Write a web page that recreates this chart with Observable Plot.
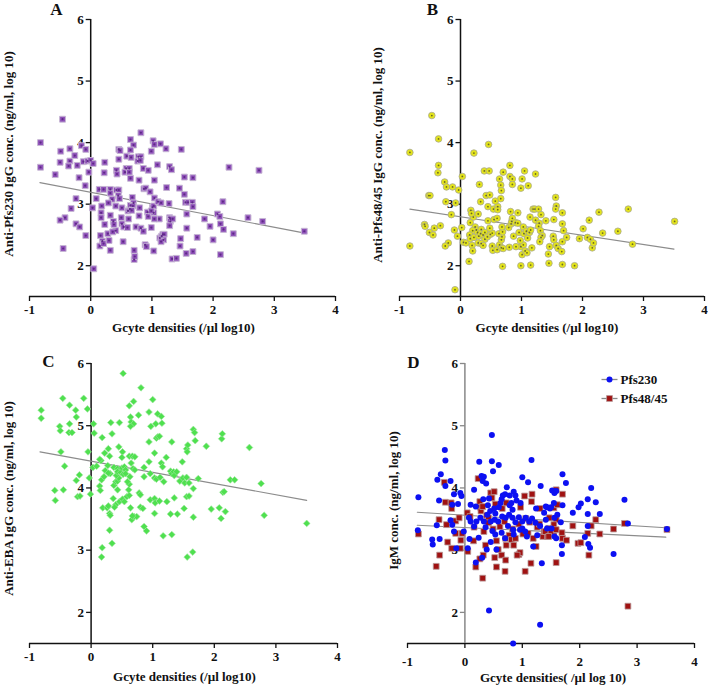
<!DOCTYPE html>
<html><head><meta charset="utf-8">
<script src="https://cdn.jsdelivr.net/npm/d3@7"></script>
<script src="https://cdn.jsdelivr.net/npm/@observablehq/plot@0.6"></script>
<style>
body{margin:0;background:#fff;}
#wrap{position:relative;width:708px;height:685px;overflow:hidden;}
#wrap svg{position:absolute;}
</style></head><body><div id="wrap"></div>
<script>
const xTicks = [-1, 0, 1, 2, 3, 4];
const yTicks = [2, 3, 4, 5, 6];
const xLabel = "Gcyte densities (/µl log10)";
const xLabelD = "Gcyte densities( /µl log 10)";
const yLabels = ["Anti-Pfs230 IgG conc. (ng/ml, log 10)", "Anti-Pfs48/45 IgG conc. (ng/ml, log 10)", "Anti-EBA IgG conc. (ng/ml, log 10)", "IgM conc. (ng/ml, log 10)"];
const legendNames = ["Pfs230", "Pfs48/45"];

const pfs230IgG = [[-0.82,4.0],[-0.82,3.6],[-0.58,3.48],[-0.46,4.38],[-0.5,3.68],[-0.49,3.86],[-0.34,3.9],[-0.34,3.7],[-0.36,3.62],[-0.26,3.79],[-0.22,3.63],[-0.19,3.43],[-0.15,3.95],[-0.08,3.89],[-0.12,3.69],[-0.05,3.7],[0,3.71],[0.04,3.66],[-0.03,3.52],[-0.09,3.3],[-0.24,3.09],[-0.32,2.93],[-0.42,2.78],[-0.5,2.74],[-0.24,2.68],[-0.18,2.63],[-0.08,2.49],[-0.45,2.28],[0.03,2.94],[0.05,1.95],
[0.09,3.09],[0.14,3.24],[0.21,3.24],[0.18,2.97],[0.17,2.86],[0.17,2.78],[0.23,2.67],[0.16,2.49],[0.19,2.4],[0.15,2.32],[0.21,2.36],[0.3,2.41],[0.28,2.52],[0.32,2.25],[0.23,3.68],[0.22,3.51],[0.32,3.24],[0.32,3.18],[0.35,3.08],[0.29,3.02],[0.32,2.82],[0.37,2.72],[0.38,2.67],[0.41,2.57],[0.36,2.55],[0.46,3.89],[0.48,3.87],[0.46,3.73],[0.42,3.55],[0.43,3.49],[0.42,3.23],[0.46,3.23],[0.45,3.14],[0.47,3.09],[0.41,2.97],[0.51,2.94],[0.5,2.78],[0.51,2.68],[0.54,2.63],[0.53,2.39],[0.6,2.62],[0.62,2.76],[0.61,2.89],[0.64,2.92],[0.65,4.05],[0.7,3.96],[0.65,3.88],[0.59,3.78],[0.58,3.58],[0.56,3.52],[0.63,3.58],[0.63,3.52],[0.66,3.76],[0.65,3.42],[0.68,3.11],[0.7,3.02],[0.65,2.98],[0.69,2.97],[0.67,2.9],[0.71,2.25],[0.71,2.1],[0.72,2.15],[0.74,2.63],[0.78,3.77],[0.82,3.77],[0.77,3.7],[0.79,3.39],[0.82,4.16],[0.81,3.71],[0.86,3.58],[0.94,3.55],[0.87,3.25],[0.9,3.26],[0.97,3.2],[0.82,2.61],[0.86,2.56],[0.89,2.34],[0.91,2.31],[0.8,2.94],[0.79,2.81],[0.93,2.87],[0.94,2.8],[1.01,2.95],[1.03,2.97],[1.03,2.86],[0.99,2.89],[1.02,4.03],[1.04,3.97],[0.99,3.86],[1.14,3.98],[1.09,3.64],[1.23,3.9],[1.04,3.39],[1.04,3.1],[1.1,3.04],[1.15,3.02],[1.12,2.76],[1.04,2.76],[1.03,2.24],[0.99,2.62],[1.13,2.45],[1.16,2.48],[1.18,2.51],[1.2,2.51],[1.19,2.42],[1.15,2.39],[1.24,3.27],[1.29,3.61],[1.32,3.56],[1.28,3.01],[1.29,2.78],[1.3,2.76],[1.3,2.72],[1.29,2.65],[1.34,2.76],[1.33,2.11],[1.4,2.12],[1.45,3.26],[1.48,3.89],[1.53,3.44],[1.53,3.16],[1.55,3.03],[1.59,3.03],[1.66,3.03],[1.67,2.96],[1.57,2.84],[1.57,2.61],[1.47,2.44],[1.46,2.32],[1.56,2.2],[1.67,3.43],[1.67,2.23],[1.74,2.46],[1.86,2.76],[1.95,2.64],[2.0,2.42],[2.07,2.84],[2.11,2.8],[2.12,2.68],[2.12,2.18],[2.16,3.04],[2.17,2.59],[2.26,3.6],[2.33,2.52],[2.57,2.78],[2.75,3.55],[2.81,2.72],[3.49,2.56]];

const pfs4845IgG = [[-0.83,3.84],[-0.83,2.32],[-0.47,4.44],[-0.36,4.06],[-0.36,3.63],[-0.37,3.51],[-0.26,3.36],[-0.23,3.28],[-0.13,3.28],[-0.03,3.23],[0.03,3.45],[-0.52,3.14],[-0.5,3.14],[-0.24,3.04],[-0.08,3.02],[-0.15,2.83],[-0.59,2.67],[-0.58,2.64],[-0.43,2.61],[-0.33,2.65],[-0.51,2.54],[-0.45,2.5],[-0.1,2.58],[0.02,2.62],[-0.05,2.48],[-0.2,2.37],[-0.25,2.32],[-0.09,1.61],[0.05,2.38],[0.09,2.37],[0.14,2.07],[0.22,3.83],[0.46,3.97],[0.31,3.32],[0.33,3.04],[0.39,3.54],[0.47,3.54],[0.42,3.14],[0.48,3.15],[0.45,2.96],[0.17,2.9],[0.21,2.79],[0.18,2.85],[0.29,2.84],[0.16,2.7],[0.24,2.63],[0.26,2.58],[0.2,2.57],[0.28,2.54],[0.34,2.59],[0.15,2.5],[0.16,2.44],[0.22,2.46],[0.3,2.48],[0.33,2.52],[0.37,2.5],[0.4,2.54],[0.4,2.43],[0.29,2.37],[0.34,2.36],[0.19,2.33],[0.2,2.24],[0.37,2.33],[0.44,2.47],[0.49,2.51],[0.52,2.53],[0.48,2.61],[0.45,2.73],[0.55,2.75],[0.6,2.77],[0.54,2.92],[0.61,2.96],[0.61,2.91],[0.64,3.41],[0.66,3.31],[0.67,3.22],[0.66,3.09],[0.57,3.05],[0.7,3.52],[0.52,2.32],[0.53,2.25],[0.6,2.26],[0.64,2.34],[0.67,2.29],[0.7,2.28],[0.67,2.42],[0.68,2.47],[0.63,2.52],[0.69,2.55],[0.68,2.63],[0.79,2.62],[0.83,2.68],[0.84,2.72],[0.85,2.77],[0.82,2.88],[0.81,3.63],[0.81,3.45],[0.85,3.41],[0.85,3.32],[0.87,2.48],[0.8,2.3],[0.69,1.99],[0.9,2.7],[0.94,2.86],[0.94,2.69],[0.96,2.54],[0.99,2.31],[0.91,2.31],[1.03,2.34],[1.01,2.18],[0.98,2.41],[0.99,2.0],[0.99,3.26],[1.01,3.41],[1.05,3.54],[1.11,3.3],[1.03,2.63],[1.04,2.52],[1.08,2.56],[1.1,2.45],[1.13,2.54],[1.15,2.58],[1.14,2.79],[1.06,2.24],[1.09,2.21],[1.17,2.29],[1.15,2.01],[1.19,2.92],[1.23,3.49],[1.22,2.92],[1.28,2.92],[1.23,2.74],[1.29,2.69],[1.32,2.83],[1.28,2.64],[1.31,2.57],[1.34,2.49],[1.32,2.46],[1.3,2.39],[1.4,2.73],[1.46,2.31],[1.44,2.19],[1.45,2.04],[1.53,2.75],[1.56,3.11],[1.57,2.97],[1.56,2.92],[1.52,2.48],[1.53,2.42],[1.57,2.33],[1.6,2.28],[1.67,2.86],[1.67,2.68],[1.69,2.57],[1.67,2.39],[1.66,2.23],[1.67,2.02],[1.74,2.46],[1.87,2.0],[1.95,2.44],[2.01,2.6],[2.08,2.46],[2.11,2.74],[2.13,2.43],[2.16,2.29],[2.18,2.37],[2.27,2.87],[2.33,2.53],[2.58,2.56],[2.75,2.92],[2.82,2.35],[3.51,2.72]];

const ebaIgG = [[-0.81,5.25],[-0.81,5.12],[-0.46,5.44],[-0.35,5.33],[-0.25,5.25],[-0.12,5.44],[-0.06,5.27],[-0.24,5.14],[-0.35,5.03],[-0.51,4.99],[-0.5,4.92],[-0.36,4.89],[-0.31,4.89],[0.04,5.03],[0.05,4.88],[-0.49,4.58],[-0.43,4.35],[-0.05,4.58],[0.18,4.81],[0.03,4.33],[0.09,4.35],[-0.59,3.96],[-0.45,3.97],[-0.58,3.8],[-0.24,4.12],[-0.19,4.21],[-0.22,3.86],[-0.18,3.87],[-0.03,4.16],[-0.01,3.9],[0.14,4.03],[0.15,3.96],[0.17,4.13],[0.21,4.18],[0.23,4.28],[0.27,4.36],[0.16,4.44],[0.14,4.46],[0.22,4.56],[0.28,4.63],[0.3,4.51],[0.32,5.05],[0.34,4.87],[0.46,5.05],[0.45,4.66],[0.52,5.84],[0.51,4.58],[0.5,4.49],[0.31,4.23],[0.28,4.24],[0.19,3.68],[0.26,3.68],[0.3,3.59],[0.31,3.56],[0.28,3.71],[0.3,3.32],[0.34,3.11],[0.18,3.04],[0.17,2.89],[0.36,3.83],[0.4,3.73],[0.38,3.69],[0.37,4.04],[0.4,4.1],[0.43,3.97],[0.43,4.11],[0.45,4.16],[0.41,4.2],[0.37,4.33],[0.43,4.31],[0.43,4.26],[0.48,4.25],[0.5,4.32],[0.54,4.34],[0.52,4.22],[0.56,4.29],[0.56,4.23],[0.46,3.78],[0.51,3.82],[0.54,3.78],[0.58,3.86],[0.62,3.88],[0.61,3.97],[0.62,4.06],[0.59,4.1],[0.63,4.18],[0.62,5.32],[0.64,5.14],[0.65,5.06],[0.69,5.03],[0.64,4.99],[0.69,5.39],[0.77,5.17],[0.62,4.51],[0.67,4.51],[0.71,4.5],[0.65,4.4],[0.68,4.31],[0.71,4.29],[0.64,3.68],[0.66,3.49],[0.7,3.54],[0.74,3.54],[0.67,3.55],[0.81,5.61],[0.78,3.92],[0.8,3.89],[0.8,3.69],[0.84,3.67],[0.86,3.38],[0.9,3.31],[0.86,4.18],[0.86,4.33],[0.94,4.42],[0.94,5.22],[0.94,4.74],[1.0,5.42],[0.97,4.99],[1.05,5.03],[1.06,4.8],[1.08,4.82],[1.11,4.83],[1.08,5.19],[1.14,5.15],[1.15,5.04],[1.03,4.56],[0.96,4.23],[1.03,4.16],[1.06,4.14],[1.12,4.17],[1.14,4.4],[1.16,4.34],[1.22,4.49],[1.18,4.1],[0.96,3.81],[1.03,3.83],[1.04,3.76],[1.03,3.59],[1.11,3.79],[1.17,3.23],[1.23,3.78],[1.29,3.58],[1.31,3.25],[1.35,3.84],[1.31,4.74],[1.29,4.27],[1.31,4.23],[1.34,4.26],[1.35,4.2],[1.39,4.26],[1.4,3.58],[1.44,4.11],[1.48,4.42],[1.49,4.16],[1.52,4.08],[1.55,4.17],[1.55,3.86],[1.51,3.67],[1.55,4.63],[1.57,4.69],[1.56,4.58],[1.59,4.08],[1.59,3.87],[1.56,2.89],[1.65,2.97],[1.66,4.94],[1.68,4.89],[1.69,4.76],[1.66,3.99],[1.66,3.53],[1.74,4.15],[1.87,4.67],[1.95,3.66],[2.08,3.68],[2.11,3.51],[2.12,4.79],[2.13,4.87],[2.14,3.93],[2.16,3.94],[2.18,3.62],[2.26,4.13],[2.33,4.13],[2.57,4.65],[2.76,4.07],[2.81,3.56],[3.5,3.43]];

const igmPfs230 = [[-0.81,3.85],[-0.82,3.32],[-0.57,3.17],[-0.56,3.09],[-0.44,3.18],[-0.49,3.4],[-0.45,3.8],[-0.42,4.22],[-0.35,4.61],[-0.34,4.44],[-0.25,4.11],[-0.48,4.13],[-0.34,4.03],[-0.25,3.48],[-0.22,3.41],[-0.19,3.3],[-0.22,3.73],[-0.12,3.74],[-0.19,3.9],[-0.08,3.92],[-0.06,3.87],[-0.15,3.03],[-0.02,3.3],[0.1,3.73],[0.07,3.52],[0.16,3.97],[0.19,3.7],[0.2,3.46],[0.25,4.42],[0.29,4.19],[0.31,4.11],[0.33,4.18],[0.37,4.07],[0.32,3.82],[0.4,3.72],[0.44,3.63],[0.47,4.85],[0.47,4.43],[0.49,4.27],[0.59,4.37],[0.42,3.83],[0.51,3.67],[0.53,3.59],[0.59,3.69],[0.62,3.76],[0.64,3.82],[0.66,3.88],[0.7,3.9],[0.73,4.01],[0.78,3.88],[0.85,3.94],[0.88,3.88],[0.9,3.8],[0.78,3.72],[0.81,3.76],[0.83,3.65],[0.97,3.76],[1.0,4.17],[1.1,4.09],[1.16,4.45],[1.32,4.03],[1.52,3.96],[0.19,2.8],[0.3,2.88],[0.38,3.01],[0.48,3.31],[0.53,3.25],[0.64,3.28],[0.7,3.19],[0.75,3.39],[0.84,3.33],[0.85,3.25],[0.96,3.33],[1.0,3.35],[1.05,3.3],[1.08,3.22],[1.19,3.06],[1.26,3.24],[1.34,2.79],[1.31,3.39],[1.51,3.35],[0.1,3.46],[0.16,3.38],[0.27,3.52],[0.33,3.46],[0.36,3.37],[0.39,3.57],[0.45,3.46],[0.52,3.49],[0.58,3.46],[0.65,3.54],[0.71,3.52],[0.77,3.57],[0.83,3.52],[0.88,3.45],[0.94,3.53],[1.0,3.46],[1.06,3.52],[1.12,3.46],[1.17,3.51],[1.23,3.44],[1.24,3.67],[1.38,3.6],[1.43,3.69],[0.05,3.03],[0.08,3.18],[0.24,3.2],[0.45,3.13],[0.55,3.01],
[1.7,4.22],[1.76,4.08],[1.56,3.92],[1.59,3.95],[1.55,3.76],[1.41,3.7],[1.48,3.67],[1.5,3.69],[1.7,3.72],[1.61,3.57],[1.41,3.49],[1.56,3.52],[1.67,3.45],[1.43,3.35],[1.56,3.22],[1.59,3.19],[1.69,3.08],[1.69,2.94],[2.2,4.0],[2.14,3.82],[2.02,3.75],[1.98,3.69],[1.88,3.6],[2.14,3.58],[2.28,3.77],[2.35,3.58],[2.14,3.39],[2.09,3.21],[2.15,3.1],[2.18,3.04],[2.59,2.94],[2.78,3.81],[2.84,3.43],[3.52,3.34],[0.42,2.03],[1.31,1.8],[0.84,1.5]];

const igmPfs4845 = [[-0.81,3.26],[-0.45,3.49],[-0.5,2.74],[-0.44,2.92],[-0.36,4.09],[-0.34,3.77],[-0.32,3.41],[-0.3,3.13],[-0.24,3.76],[-0.23,3.67],[-0.23,3.03],[-0.16,3.47],[-0.1,3.52],[-0.16,3.27],[-0.08,3.03],[-0.07,3.16],[-0.05,3.27],[0.04,3.6],[0.09,3.54],[0.05,2.98],[0.16,3.37],[0.15,3.15],[0.23,4.15],[0.26,3.78],[0.27,3.69],[0.28,3.63],[0.33,3.3],[0.36,3.08],[0.32,2.92],[0.26,2.86],[0.31,3.7],[0.38,3.56],[0.41,3.52],[0.41,3.44],[0.45,3.92],[0.47,3.84],[0.51,3.94],[0.53,3.74],[0.49,3.34],[0.55,3.15],[0.52,2.88],[0.58,3.01],[0.61,3.38],[0.65,3.67],[0.69,3.46],[0.71,3.19],[0.72,3.76],[0.64,2.92],[0.71,2.84],[0.72,3.08],[0.77,3.24],[0.83,3.34],[0.81,3.17],[0.85,3.08],[0.88,3.19],[0.94,3.42],[0.94,2.93],[0.96,2.96],[0.97,3.69],[1.01,3.26],[1.04,3.87],[1.06,3.51],[1.1,3.27],[1.13,3.45],[1.17,3.9],[1.16,3.78],[1.19,3.19],[1.26,3.37],[1.24,3.06],[1.3,3.42],[1.31,3.67],[1.36,3.22],[1.38,3.3],[1.44,3.22],[1.47,3.52],[1.55,3.68],[1.55,3.3],[1.52,3.25],[0.31,2.55],[0.7,2.66],[0.55,2.73],[0.91,2.92],[1.15,2.79],[1.05,2.66],[0.19,2.73],
[1.59,3.97],[1.7,3.9],[1.61,3.73],[1.59,3.49],[1.55,3.41],[1.46,3.35],[1.4,3.3],[1.5,3.3],[1.59,3.33],[1.69,3.28],[1.46,3.22],[1.7,3.19],[1.77,3.16],[1.88,3.39],[1.97,3.11],[2.02,3.12],[2.2,3.39],[2.28,3.49],[2.14,3.27],[2.35,3.26],[2.16,2.92],[2.59,3.34],[2.78,3.43],[1.59,2.8],[3.52,3.33],[2.84,2.1]];

const fitA = [[-0.83, 3.35], [3.5, 2.53]];
const fitB = [[-0.83, 2.92], [3.5, 2.27]];
const fitC = [[-0.83, 4.58], [3.5, 3.80]];
const fitD230 = [[-0.83, 3.61], [3.5, 3.36]];
const fitD4845 = [[-0.83, 3.40], [3.5, 3.21]];

const FONT = "'Liberation Serif', 'Times New Roman', serif";
const tickLeft = {draw(ctx) { ctx.moveTo(-5, 0); ctx.lineTo(0, 0); }};
const legendLine = {draw(ctx) { ctx.moveTo(-8, 0); ctx.lineTo(8, 0); }};
const C = {textAnchor: "middle", lineAnchor: "middle"};

function panel(o) {
  const marks = [
    Plot.ruleY([1.5], {stroke: "#111", strokeWidth: 1.5}),
    Plot.axisX({ticks: xTicks, tickSize: 5, tickPadding: o.tickPad, label: null, fontSize: 13, fontWeight: "bold", tickFormat: d => String(d), strokeWidth: 1.3}),
    Plot.ruleX([0], {y1: 1.5, y2: 6, stroke: o.axisColor, strokeWidth: 1.5}),
    Plot.dot(yTicks, {x: 0, y: d => d, symbol: tickLeft, stroke: o.axisColor, strokeWidth: 1.3}),
    Plot.text(yTicks, {x: 0, y: d => d, text: d => String(d), dx: -7, textAnchor: "end", fontSize: 13, fontWeight: "bold"}),
    Plot.text([o.ylabel], {...C, frameAnchor: "left", rotate: -90, dx: o.ylDx, dy: o.ylDy, fontSize: 13, fontWeight: "bold"}),
    Plot.text([o.xlabel], {...C, frameAnchor: "bottom", dx: o.xlDx, dy: o.xlDy, fontSize: 13, fontWeight: "bold"}),
    Plot.text([o.letter], {...C, frameAnchor: "top-left", dx: o.lDx, dy: o.lDy, fontSize: 17, fontWeight: "bold"}),
    ...o.marks
  ];
  const svg = Plot.plot({
    width: 354, height: o.height,
    marginLeft: o.ml, marginRight: o.mr, marginTop: o.mt, marginBottom: o.mb,
    x: {domain: [-1, 4]},
    y: {domain: [1.5, 6], axis: null},
    style: {fontFamily: FONT, background: "transparent", color: "#111", overflow: "visible"},
    marks
  });
  svg.style.left = o.left + "px";
  svg.style.top = o.top + "px";
  document.getElementById("wrap").appendChild(svg);
}

const fit = (data) => Plot.line(data, {x: d => d[0], y: d => d[1], stroke: "#8c8c8c", strokeWidth: 1.1});
const X = d => d[0], Y = d => d[1];

panel({left: 0, top: 0, height: 330, ml: 29, mr: 19, mt: 19, mb: 34, axisColor: "#111", tickPad: 3,
  letter: "A", lDx: 27, lDy: -10, ylabel: yLabels[0], ylDx: -21, ylDy: -4, xlabel: xLabel, xlDx: 1, xlDy: 31,
  marks: [
    fit(fitA),
    Plot.dot(pfs230IgG, {x: X, y: Y, symbol: "square", r: 3.3, fill: "#8e50b8", stroke: "#c6b6d4", strokeWidth: 1}),
    Plot.dot(pfs230IgG, {x: X, y: Y, r: 1.1, fill: "#5e2a86"})
  ]});

panel({left: 354, top: 0, height: 330, ml: 45, mr: 4, mt: 19, mb: 34, axisColor: "#111", tickPad: 3,
  letter: "B", lDx: 33, lDy: -10, ylabel: yLabels[1], ylDx: -22, ylDy: -3, xlabel: xLabel, xlDx: -5, xlDy: 31,
  marks: [
    fit(fitB),
    Plot.dot(pfs4845IgG, {x: X, y: Y, r: 3.3, fill: "#e4e41a", stroke: "#a8a890", strokeWidth: 0.8}),
    Plot.dot(pfs4845IgG, {x: X, y: Y, r: 0.9, fill: "#6b6b20"})
  ]});

panel({left: 0, top: 330, height: 355, ml: 29, mr: 17, mt: 33, mb: 42, axisColor: "#111", tickPad: 3,
  letter: "C", lDx: 19, lDy: -2, ylabel: yLabels[2], ylDx: -21, ylDy: -5, xlabel: xLabel, xlDx: 1, xlDy: 33,
  marks: [
    fit(fitC),
    Plot.dot(ebaIgG, {x: X, y: Y, symbol: "square", rotate: 45, r: 2.7, fill: "#4fe04f", stroke: "#9ee89e", strokeWidth: 0.6})
  ]});

panel({left: 354, top: 330, height: 355, ml: 53, mr: 14, mt: 33, mb: 42, axisColor: "#888", tickPad: 8,
  letter: "D", lDx: 6, lDy: -1, ylabel: yLabels[3], ylDx: -14, ylDy: -3, xlabel: xLabelD, xlDx: 2, xlDy: 34,
  marks: [
    fit(fitD230),
    fit(fitD4845),
    Plot.dot(igmPfs4845, {x: X, y: Y, symbol: "square", r: 3.3, fill: "#a01212", stroke: "#b99a9a", strokeWidth: 0.8}),
    Plot.dot(igmPfs230, {x: X, y: Y, r: 3, fill: "#0c10f2"}),
    Plot.dot([legendNames[0]], {frameAnchor: "top-right", dx: -85, dy: 16, symbol: legendLine, stroke: "#888", strokeWidth: 1.3}),
    Plot.dot([legendNames[1]], {frameAnchor: "top-right", dx: -85, dy: 35, symbol: legendLine, stroke: "#888", strokeWidth: 1.3}),
    Plot.dot([legendNames[0]], {frameAnchor: "top-right", dx: -85, dy: 16, r: 3, fill: "#0c10f2"}),
    Plot.dot([legendNames[1]], {frameAnchor: "top-right", dx: -85, dy: 35, symbol: "square", r: 3.3, fill: "#a01212", stroke: "#b99a9a", strokeWidth: 0.8}),
    Plot.text([legendNames[0]], {frameAnchor: "top-right", dx: -74, dy: 16, textAnchor: "start", lineAnchor: "middle", fontSize: 13, fontWeight: "bold"}),
    Plot.text([legendNames[1]], {frameAnchor: "top-right", dx: -74, dy: 35, textAnchor: "start", lineAnchor: "middle", fontSize: 13, fontWeight: "bold"})
  ]});
</script>
</body></html>
